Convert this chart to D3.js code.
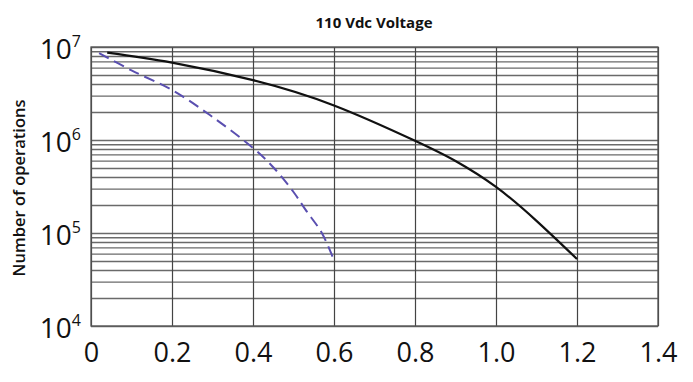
<!DOCTYPE html>
<html>
<head>
<meta charset="utf-8">
<script src="https://cdn.jsdelivr.net/npm/d3@7"></script>
<style>
  html, body { margin: 0; padding: 0; background: #ffffff; }
  svg { display: block; }
</style>
</head>
<body>
<svg id="chart" width="693" height="382"></svg>
<script>
// ---- data ----
const chartTitle = "110 Vdc Voltage";
const yAxisTitle = "Number of operations";
const xTicks = [0, 0.2, 0.4, 0.6, 0.8, 1.0, 1.2, 1.4];
const xTickLabels = ["0", "0.2", "0.4", "0.6", "0.8", "1.0", "1.2", "1.4"];
const yDecades = [1e4, 1e5, 1e6, 1e7];
const yExponents = ["4", "5", "6", "7"];

const solidX = [0.04, 0.2, 0.4, 0.6, 0.8, 0.9, 1.0, 1.1, 1.2];
const solidY = [8.7e6, 6.8e6, 4.4e6, 2.35e6, 9.8e5, 5.94e5, 3.13e5, 1.35e5, 5.25e4];

const dashX = [0.02, 0.1, 0.2, 0.3, 0.4, 0.45, 0.5, 0.53, 0.57, 0.6];
const dashY = [8.6e6, 5.6e6, 3.45e6, 1.77e6, 8.2e5, 5.1e5, 2.76e5, 1.77e5, 1.0e5, 5.1e4];

// ---- layout ----
const svg = d3.select("#chart");
const pL = 91, pR = 658, pT = 47, pB = 326;

const x = d3.scaleLinear().domain([0, 1.4]).range([pL, pR]);
const y = d3.scaleLog().domain([1e4, 1e7]).range([pB, pT]);

// minor + major horizontal grid values
const yGridVals = [];
for (let e = 4; e < 7; e++) {
  for (let m = 1; m <= 9; m++) yGridVals.push(m * Math.pow(10, e));
}
yGridVals.push(1e7);

// horizontal grid
const hGrid = svg.append("g")
  .attr("transform", `translate(${pL},0)`)
  .call(d3.axisLeft(y).tickValues(yGridVals).tickSize(-(pR - pL)).tickFormat(""));
hGrid.select(".domain").remove();
hGrid.selectAll("line").attr("stroke", "#6a6a6a").attr("stroke-width", 1.3);

// vertical grid
const vGrid = svg.append("g")
  .attr("transform", `translate(0,${pB})`)
  .call(d3.axisBottom(x).tickValues(xTicks).tickSize(-(pB - pT)).tickFormat(""));
vGrid.select(".domain").remove();
vGrid.selectAll("line").attr("stroke", "#444").attr("stroke-width", 1.2);

// frame
svg.append("rect")
  .attr("x", pL).attr("y", pT)
  .attr("width", pR - pL).attr("height", pB - pT)
  .attr("fill", "none").attr("stroke", "#555").attr("stroke-width", 1.3);

// x tick labels
const xAxis = svg.append("g")
  .attr("transform", `translate(0,${pB})`)
  .call(d3.axisBottom(x).tickValues(xTicks).tickSize(0).tickPadding(0)
    .tickFormat((d, i) => xTickLabels[i]));
xAxis.select(".domain").remove();
xAxis.selectAll("text")
  .attr("y", 36).attr("dy", null)
  .attr("font-family", "'Open Sans', sans-serif")
  .attr("font-size", 27)
  .attr("fill", "#111");

// y tick labels (10^n)
const yLab = svg.append("g");
yDecades.forEach((v, i) => {
  const t = yLab.append("text")
    .attr("x", 81).attr("y", y(v) + 12)
    .attr("text-anchor", "end")
    .attr("font-family", "'Open Sans', sans-serif")
    .attr("fill", "#111");
  t.append("tspan").attr("font-size", 28).text("10");
  t.append("tspan").attr("font-size", 16).attr("dy", -12).text(yExponents[i]);
});

// lines
const dashLine = d3.line().x(d => x(d[0])).y(d => y(d[1])).curve(d3.curveCatmullRom.alpha(0.5));
const solidLine = d3.line().x(d => x(d[0])).y(d => y(d[1])).curve(d3.curveNatural);

svg.append("path")
  .datum(dashX.map((v, i) => [v, dashY[i]]))
  .attr("d", dashLine)
  .attr("fill", "none")
  .attr("stroke", "#5a4fb0")
  .attr("stroke-width", 2)
  .attr("stroke-dasharray", "11,6");

svg.append("path")
  .datum(solidX.map((v, i) => [v, solidY[i]]))
  .attr("d", solidLine)
  .attr("fill", "none")
  .attr("stroke", "#111")
  .attr("stroke-width", 2.2);

// title
svg.append("text")
  .attr("x", 374).attr("y", 28)
  .attr("text-anchor", "middle")
  .attr("font-family", "'Open Sans', sans-serif")
  .attr("font-weight", "bold")
  .attr("font-size", 15)
  .attr("fill", "#111")
  .text(chartTitle);

// y axis title
svg.append("text")
  .attr("transform", `translate(25,188) rotate(-90)`)
  .attr("text-anchor", "middle")
  .attr("font-family", "'Open Sans', sans-serif")
  .attr("font-weight", 600)
  .attr("font-size", 16.5)
  .attr("fill", "#111")
  .text(yAxisTitle);
</script>
</body>
</html>
